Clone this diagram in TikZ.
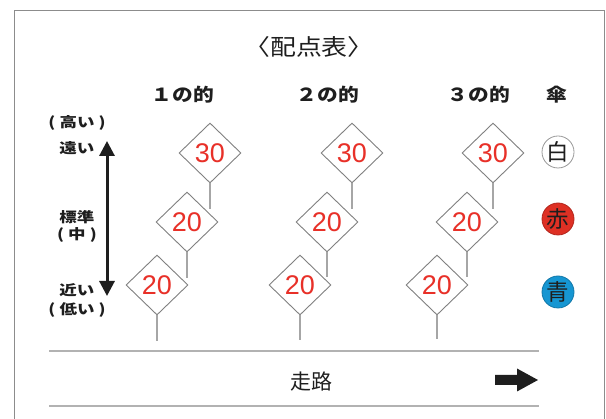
\documentclass[tikz,border=0pt]{standalone}
\usepackage{fontspec}
\setmainfont{Liberation Sans}
\newfontfamily\jp{Noto Sans CJK JP}
\newfontfamily\jpw{Noto Sans CJK JP}[FakeStretch=1.25]
\newfontfamily\jph{Noto Sans CJK JP}[FakeStretch=1.15]
\usetikzlibrary{shapes.geometric,arrows.meta}
\definecolor{scorered}{RGB}{232,48,40}
\definecolor{umbred}{RGB}{222,48,36}
\definecolor{umbblue}{RGB}{22,150,210}
\definecolor{ink}{RGB}{30,30,30}
\begin{document}
\begin{tikzpicture}[x=1pt,y=-1pt,
  frame/.style={draw=black!45, line width=1pt},
  target/.style={diamond, draw=black!50, line width=0.9pt, minimum width=62pt, minimum height=60pt, inner sep=0pt, text=scorered, font=\fontsize{27}{27}\selectfont},
  stem/.style={draw=black!35, line width=1.4pt},
  track/.style={draw=black!30, line width=1.3pt},
  hdr/.style={font=\jph\bfseries\fontsize{18}{18}\selectfont, text=ink},
  side/.style={font=\jpw\bfseries\fontsize{14}{14}\selectfont, text=ink},
  umb/.style={circle, minimum size=32pt, inner sep=0pt, line width=0.8pt, font=\jp\fontsize{22.5}{22.5}\selectfont, text=ink},
  title/.style={font=\jph\fontsize{22.5}{23}\selectfont, text=ink},
  road/.style={font=\jp\fontsize{21}{21}\selectfont, text=ink}
]
\useasboundingbox (0,0) rectangle (606,419);
\fill[white] (0,0) rectangle (606,419);
% frame
\draw[frame] (14,419) -- (14,11) -- (604,11) -- (604,419);

% title and headers
\node[title] (ttl) at (309,47) {〈配点表〉};
\node[hdr] (h1) at (183,95) {１の的};
\node[hdr] (h2) at (328,95) {２の的};
\node[hdr] (h3) at (479,95) {３の的};
\node[hdr] (h4) at (557,95) {傘};

% side labels
\node[side] (s1) at (77,123) {( 高い )};
\node[side] (s2) at (77,148) {遠い};
\node[side] (s3) at (77,217) {標準};
\node[side] (s4) at (77,235) {( 中 )};
\node[side] (s5) at (77,290) {近い};
\node[side] (s6) at (77,310) {( 低い )};
\coordinate (atop) at (107,141);
\coordinate (abot) at (107,296);
\draw[line width=3pt, draw=ink, {Triangle[width=15pt,length=15pt]}-{Triangle[width=15pt,length=15pt]}] (atop) -- (abot);

% targets column 1
\node[target] (a3) at (210,153) {30};
\node[target] (a2) at (187,222) {20};
\node[target] (a1) at (157,285) {20};
% column 2
\node[target] (b3) at (352,153) {30};
\node[target] (b2) at (327,222) {20};
\node[target] (b1) at (300,285) {20};
% column 3
\node[target] (c3) at (493,153) {30};
\node[target] (c2) at (467,222) {20};
\node[target] (c1) at (437,285) {20};

% stems
\coordinate (a3e) at (210,209);
\coordinate (a2e) at (187,278);
\coordinate (a1e) at (157,341);
\coordinate (b3e) at (352,209);
\coordinate (b2e) at (327,277);
\coordinate (b1e) at (300,340);
\coordinate (c3e) at (493,209);
\coordinate (c2e) at (467,277);
\coordinate (c1e) at (437,339);
\foreach \t in {a3,a2,a1,b3,b2,b1,c3,c2,c1}
  \draw[stem] (\t.south) -- (\t e);

% umbrellas
\node[umb, draw=black!40, fill=white] (u1) at (558,152) {白};
\node[umb, draw=umbred!80!black, fill=umbred] (u2) at (558,219) {赤};
\node[umb, draw=umbblue!80!black, fill=umbblue] (u3) at (558,292) {青};

% track
\coordinate (t1l) at (49,351);
\coordinate (t1r) at (539,351);
\coordinate (t2l) at (49,406);
\coordinate (t2r) at (539,406);
\draw[track] (t1l) -- (t1r);
\draw[track] (t2l) -- (t2r);
\node[road] (rd) at (311,382) {走路};
\fill[ink] (495,375) -- (517,375) -- (517,368.5) -- (538,380) -- (517,391.5) -- (517,385) -- (495,385) -- cycle;
\end{tikzpicture}
\end{document}
